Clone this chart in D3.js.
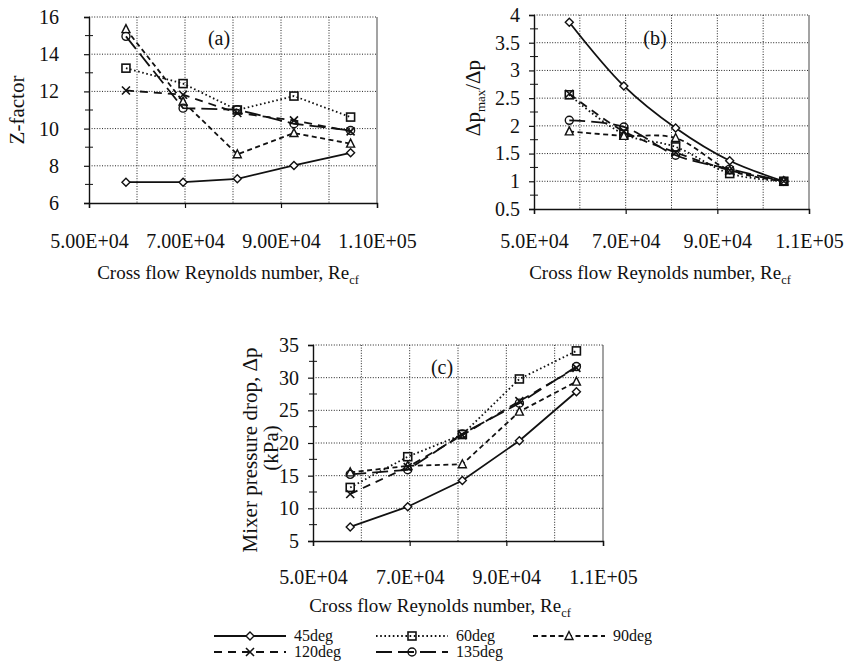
<!DOCTYPE html>
<html>
<head>
<meta charset="utf-8">
<script src="https://cdn.jsdelivr.net/npm/d3@7/dist/d3.min.js"></script>
<style>
  html, body { margin: 0; padding: 0; background: #fff; }
  svg text { font-family: "Liberation Serif", "Times New Roman", serif; fill: #111; }
</style>
</head>
<body>
<svg id="fig" width="848" height="664"></svg>
<script>
// Cross flow Reynolds number at each measurement
const reynolds = [57700, 69600, 80900, 92700, 104500];
const seriesNames = ["45deg", "60deg", "90deg", "120deg", "135deg"];

// (a) Z-factor
const zFactor45  = [7.12, 7.12, 7.30, 8.02, 8.70];
const zFactor60  = [13.25, 12.42, 11.00, 11.75, 10.62];
const zFactor90  = [15.35, 11.45, 8.62, 9.76, 9.19];
const zFactor120 = [12.05, 11.82, 10.84, 10.44, 9.85];
const zFactor135 = [14.96, 11.10, 11.02, 10.26, 9.90];

// (b) maximum pressure drop ratio
const ratio45  = [3.87, 2.72, 1.96, 1.37, 1.00];
const ratio60  = [2.56, 1.85, 1.62, 1.14, 1.00];
const ratio90  = [1.90, 1.82, 1.78, 1.20, 1.00];
const ratio120 = [2.58, 1.90, 1.52, 1.20, 1.00];
const ratio135 = [2.10, 1.98, 1.47, 1.22, 1.00];

// (c) mixer pressure drop, kPa
const drop45  = [7.15, 10.25, 14.25, 20.35, 27.85];
const drop60  = [13.2, 17.9, 21.3, 29.8, 34.1];
const drop90  = [15.5, 16.5, 16.75, 24.8, 29.4];
const drop120 = [12.2, 16.3, 21.2, 26.4, 31.5];
const drop135 = [15.2, 15.9, 21.4, 26.1, 31.7];

const xTicks = [50000, 70000, 90000, 110000];
const xTickLabelsA = ["5.00E+04", "7.00E+04", "9.00E+04", "1.10E+05"];
const xTickLabelsBC = ["5.0E+04", "7.0E+04", "9.0E+04", "1.1E+05"];
const yTicksA = [6, 8, 10, 12, 14, 16];
const yTicksB = [0.5, 1, 1.5, 2, 2.5, 3, 3.5, 4];
const yTickLabelsB = ["0.5", "1", "1.5", "2", "2.5", "3", "3.5", "4"];
const yTicksC = [5, 10, 15, 20, 25, 30, 35];

// line and marker style per series
const styles = {
  "45deg":  { dash: null,      marker: "diamond" },
  "60deg":  { dash: "1.6,2.6", marker: "square" },
  "90deg":  { dash: "5,3.5",   marker: "triangle" },
  "120deg": { dash: "8,6",     marker: "cross" },
  "135deg": { dash: "16,6",    marker: "circle" }
};

const SERIF = "'Liberation Serif', 'Times New Roman', serif";
const TICK_FONT = 20;
const svg = d3.select("#fig");

function drawMarker(g, type, x, y) {
  const s = 4;
  if (type === "diamond") {
    g.append("path").attr("d", `M${x},${y - s}L${x + s},${y}L${x},${y + s}L${x - s},${y}Z`)
      .attr("fill", "#fff").attr("stroke", "#111").attr("stroke-width", 1.4);
  } else if (type === "square") {
    g.append("rect").attr("x", x - s).attr("y", y - s).attr("width", 2 * s).attr("height", 2 * s)
      .attr("fill", "none").attr("stroke", "#111").attr("stroke-width", 1.6);
  } else if (type === "triangle") {
    g.append("path").attr("d", `M${x},${y - s - 0.5}L${x + s},${y + s - 0.5}L${x - s},${y + s - 0.5}Z`)
      .attr("fill", "#fff").attr("stroke", "#111").attr("stroke-width", 1.4);
  } else if (type === "cross") {
    g.append("path").attr("d", `M${x - s},${y - s}L${x + s},${y + s}M${x - s},${y + s}L${x + s},${y - s}`)
      .attr("stroke", "#111").attr("stroke-width", 1.6);
  } else if (type === "circle") {
    g.append("circle").attr("cx", x).attr("cy", y).attr("r", s)
      .attr("fill", "none").attr("stroke", "#111").attr("stroke-width", 1.4);
  }
}

function styleAxis(sel) {
  sel.attr("font-family", SERIF).attr("font-size", TICK_FONT);
  sel.select(".domain").attr("stroke", "#111").attr("stroke-width", 1.4);
  sel.selectAll(".tick line").attr("stroke", "#111").attr("stroke-width", 1.2);
  sel.selectAll(".tick text").attr("fill", "#111")
    .style("font-family", SERIF).style("font-size", TICK_FONT + "px");
}

function panel(opts) {
  const { left, right, top, bottom, yDomain, yTicks, yLabels, yMinor, yPad, xPad,
          xLabels, series, smooth, tag, tagX, tagY } = opts;
  const x = d3.scaleLinear().domain([50000, 110000]).range([left, right]);
  const y = d3.scaleLinear().domain(yDomain).range([bottom, top]);
  const g = svg.append("g");

  // vertical grid every 1E4, right edge drawn as a plain frame line
  const xGrid = d3.range(60000, 110001, 10000);
  g.selectAll(null).data(xGrid).enter().append("line")
    .attr("x1", d => x(d)).attr("x2", d => x(d)).attr("y1", top).attr("y2", bottom)
    .attr("stroke", d => d === 110000 ? "#666" : "#222")
    .attr("stroke-width", d => d === 110000 ? 1.2 : 1)
    .attr("stroke-dasharray", d => d === 110000 ? null : "1,1.6");
  // horizontal grid at labelled values
  g.selectAll(null).data(yTicks.slice(1)).enter().append("line")
    .attr("x1", left).attr("x2", right).attr("y1", d => y(d)).attr("y2", d => y(d))
    .attr("stroke", "#222").attr("stroke-width", 1).attr("stroke-dasharray", "1,1.6");

  // y axis with major ticks and minor marks
  const yAxis = d3.axisLeft(y).tickValues(yTicks).tickSize(5).tickPadding(yPad)
    .tickFormat((d, i) => yLabels[i]);
  g.append("g").attr("transform", `translate(${left},0)`).call(yAxis).call(styleAxis);
  g.selectAll(null).data(yMinor).enter().append("line")
    .attr("x1", left - 4).attr("x2", left + 4).attr("y1", d => y(d)).attr("y2", d => y(d))
    .attr("stroke", "#111").attr("stroke-width", 1);

  // x axis
  const xAxis = d3.axisBottom(x).tickValues(xTicks).tickSize(5).tickPadding(xPad)
    .tickFormat((d, i) => xLabels[i]);
  g.append("g").attr("transform", `translate(0,${bottom})`).call(xAxis).call(styleAxis);

  // series lines and markers
  const line = d3.line().x(d => x(d[0])).y(d => y(d[1]))
    .curve(smooth ? d3.curveCatmullRom.alpha(0.5) : d3.curveLinear);
  seriesNames.forEach((name, k) => {
    const pts = reynolds.map((r, i) => [r, series[k][i]]);
    g.append("path").attr("d", line(pts)).attr("fill", "none")
      .attr("stroke", "#111").attr("stroke-width", 1.8)
      .attr("stroke-dasharray", styles[name].dash);
  });
  seriesNames.forEach((name, k) => {
    reynolds.forEach((r, i) => drawMarker(g, styles[name].marker, x(r), y(series[k][i])));
  });

  g.append("text").attr("x", tagX).attr("y", tagY).attr("text-anchor", "middle")
    .attr("font-size", 20).text(tag);
  return { x, y, g };
}

function xTitle(cx, yBase) {
  const t = svg.append("text").attr("x", cx).attr("y", yBase).attr("text-anchor", "middle")
    .attr("font-size", 19);
  t.append("tspan").text("Cross flow Reynolds number, Re");
  t.append("tspan").attr("font-size", 12.5).attr("dy", 5).text("cf");
}

// (a)
panel({
  left: 89, right: 377, top: 17, bottom: 203,
  yDomain: [6, 16], yTicks: yTicksA, yLabels: yTicksA.map(String), yMinor: [7, 9, 11, 13, 15],
  yPad: 25, xPad: 26, xLabels: xTickLabelsA,
  series: [zFactor45, zFactor60, zFactor90, zFactor120, zFactor135],
  smooth: false, tag: "(a)", tagX: 219, tagY: 45
});
xTitle(228, 279);
svg.append("text").attr("transform", "translate(24,110) rotate(-90)").attr("text-anchor", "middle")
  .attr("font-size", 21).text("Z-factor");

// (b)
panel({
  left: 534, right: 809, top: 15, bottom: 209,
  yDomain: [0.5, 4], yTicks: yTicksB, yLabels: yTickLabelsB,
  yMinor: [0.75, 1.25, 1.75, 2.25, 2.75, 3.25, 3.75],
  yPad: 9, xPad: 20, xLabels: xTickLabelsBC,
  series: [ratio45, ratio60, ratio90, ratio120, ratio135],
  smooth: true, tag: "(b)", tagX: 655, tagY: 45
});
xTitle(660, 279);
{
  const t = svg.append("text").attr("transform", "translate(480,98) rotate(-90)")
    .attr("text-anchor", "middle").attr("font-size", 21);
  t.append("tspan").text("Δp");
  t.append("tspan").attr("font-size", 13).attr("dy", 5).text("max");
  t.append("tspan").attr("dy", -5).text("/Δp");
}

// (c)
panel({
  left: 313, right: 603, top: 345, bottom: 541,
  yDomain: [5, 35], yTicks: yTicksC, yLabels: yTicksC.map(String), yMinor: [7.5, 12.5, 17.5, 22.5, 27.5, 32.5],
  yPad: 9, xPad: 24, xLabels: xTickLabelsBC,
  series: [drop45, drop60, drop90, drop120, drop135],
  smooth: false, tag: "(c)", tagX: 442, tagY: 374
});
xTitle(440, 612);
svg.append("text").attr("transform", "translate(257,450) rotate(-90)").attr("text-anchor", "middle")
  .attr("font-size", 21).text("Mixer pressure drop, Δp");
svg.append("text").attr("transform", "translate(278,448) rotate(-90)").attr("text-anchor", "middle")
  .attr("font-size", 21).text("(kPa)");

// legend
const legendRows = [[0, 1, 2], [3, 4]];
const legendCols = [214, 376, 533];
const legendY = [636, 652];
legendRows.forEach((row, ri) => {
  row.forEach((k, ci) => {
    const name = seriesNames[k];
    const x0 = legendCols[ci], yy = legendY[ri];
    const lg = svg.append("g");
    lg.append("line").attr("x1", x0).attr("x2", x0 + 72).attr("y1", yy).attr("y2", yy)
      .attr("stroke", "#111").attr("stroke-width", 1.9).attr("stroke-dasharray", styles[name].dash);
    drawMarker(lg, styles[name].marker, x0 + 36, yy);
    lg.append("text").attr("x", x0 + 80).attr("y", yy + 5).attr("font-size", 16).text(name);
  });
});
</script>
</body>
</html>
